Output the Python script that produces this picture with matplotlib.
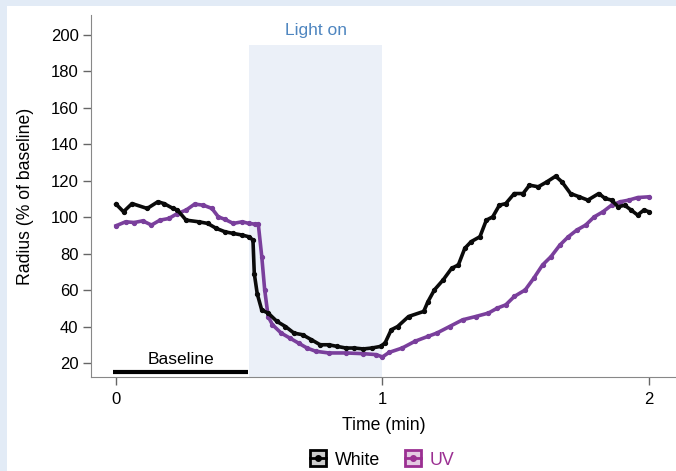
import matplotlib
matplotlib.use("Agg")
import matplotlib.pyplot as plt
from matplotlib.lines import Line2D
from matplotlib.patches import Rectangle

plt.rcParams['font.family'] = ['Liberation Sans', 'DejaVu Sans']

# pupil radius traces
white_t = [0.0, 0.028, 0.06, 0.117, 0.157, 0.18, 0.214, 0.23, 0.263, 0.31, 0.344,
           0.376, 0.409, 0.44, 0.474, 0.498, 0.514, 0.519, 0.53, 0.547, 0.571,
           0.604, 0.636, 0.668, 0.7, 0.733, 0.766, 0.798, 0.83, 0.863, 0.895,
           0.928, 0.96, 0.993, 1.01, 1.033, 1.057, 1.098, 1.155, 1.171, 1.195,
           1.228, 1.26, 1.285, 1.309, 1.333, 1.366, 1.39, 1.414, 1.439, 1.463,
           1.495, 1.528, 1.552, 1.585, 1.617, 1.65, 1.674, 1.706, 1.739, 1.771,
           1.812, 1.836, 1.86, 1.885, 1.909, 1.933, 1.958, 1.982, 2.0]
white_r = [107.2, 103, 107.5, 104.8, 108.5, 107.5, 104.8, 104, 98.4, 97.5, 96.6,
           93.9, 92, 91.1, 90.2, 89.3, 87.5, 69, 58, 49, 47.4,
           42.8, 40, 36.4, 35.5, 32.8, 30, 30, 29.1, 28.2, 28.2,
           27.7, 28.2, 29.1, 31, 38.2, 40, 45.5, 48.3, 53.7, 60.1,
           65.6, 72, 73.8, 82.9, 86.6, 89.3, 98.4, 100.2, 106.6, 107.5,
           113, 113, 117.6, 116.7, 119.4, 122.5, 119.4, 113, 111.2, 109.4,
           113, 110.3, 109.4, 105.7, 106.6, 104, 101.2, 104, 103]

uv_t = [0.0, 0.036, 0.068, 0.1, 0.133, 0.165, 0.198, 0.23, 0.263, 0.295, 0.328,
        0.36, 0.384, 0.409, 0.44, 0.474, 0.498, 0.522, 0.534, 0.547, 0.558,
        0.571, 0.587, 0.62, 0.652, 0.685, 0.717, 0.75, 0.798, 0.863, 0.928,
        0.976, 1.0, 1.025, 1.074, 1.122, 1.171, 1.204, 1.252, 1.301, 1.35,
        1.398, 1.431, 1.463, 1.495, 1.536, 1.568, 1.601, 1.633, 1.666, 1.698,
        1.73, 1.763, 1.795, 1.828, 1.86, 1.893, 1.925, 1.958, 2.0]
uv_r = [95.3, 97.5, 97.1, 98, 95.7, 98.4, 99.3, 102, 103.9, 107.2, 106.6,
        104.8, 100.2, 98.8, 96.6, 97.5, 96.6, 96.2, 96.2, 78.4, 60.1,
        45.5, 41, 36.4, 33.7, 30.9, 28.2, 26.4, 25.5, 25.5, 25.1,
        24.6, 23.3, 25.8, 28.2, 31.9, 34.6, 36.4, 40, 43.7, 45.5,
        47.4, 50.1, 51.9, 56.5, 60.1, 66.5, 73.8, 78.4, 84.7, 89.3,
        93, 95.7, 100.2, 103, 106.6, 108.5, 109.4, 110.8, 111.2]

yticks = [20, 40, 60, 80, 100, 120, 140, 160, 180, 200]
xticks = [0, 1, 2]

WHITE_C = '#0a0a0a'
UV_C = '#7a3f9c'
UV_LEG = '#9b2f92'

fig = plt.figure(figsize=(6.76, 4.71), dpi=100, facecolor='#e2ebf6')
bg = Rectangle((7 / 676, 0), 1, 1 - 6 / 471, transform=fig.transFigure,
               facecolor='white', edgecolor='none', zorder=-10)
fig.patches.append(bg)
ax = fig.add_axes([91 / 676, 1 - 377 / 471, 1 - 91 / 676, (377 - 15) / 471])
ax.set_facecolor('none')

ax.axvspan(0.5, 1.0, ymin=0, ymax=(194.5 - 12.3) / (211 - 12.3),
           color='#ebf0f8', zorder=0, lw=0)
ax.text(0.75, 198.5, 'Light on', color='#4f86c0', ha='center', va='bottom', fontsize=12.5)

ax.plot(white_t, white_r, color=WHITE_C, lw=2.6, marker='o', ms=2.8, zorder=3)
ax.plot(uv_t, uv_r, color=UV_C, lw=2.6, marker='o', ms=2.8, zorder=2)

ax.hlines(15, -0.01, 0.495, color='black', lw=3)
ax.text(0.245, 18, 'Baseline', ha='center', va='bottom', fontsize=12.5)

ax.set_xlim(-0.094, 2.102)
ax.set_ylim(12.3, 211)
ax.set_xticks(xticks)
ax.set_yticks(yticks)
ax.tick_params(colors='#666666', labelcolor='black', labelsize=12, length=6, width=1, pad=3)
ax.tick_params(axis='x', pad=5)
for s in ['top', 'right']:
    ax.spines[s].set_visible(False)
for s in ['left', 'bottom']:
    ax.spines[s].set_color('#888888')
ax.set_xlabel('Time (min)', fontsize=12.7, labelpad=7)
ax.set_ylabel('Radius (% of baseline)', fontsize=12.7, labelpad=12)

h_white = (Line2D([], [], marker='s', ms=12, mfc='#cccccc', mec='black', mew=2, ls='none'),
           Line2D([], [], color='black', lw=2, marker='o', ms=4))
h_uv = (Line2D([], [], marker='s', ms=12, mfc='#e4c9e2', mec=UV_LEG, mew=2, ls='none'),
        Line2D([], [], color=UV_LEG, lw=2, marker='o', ms=4))
leg = fig.legend([h_white, h_uv], ['White', 'UV'], loc='center', bbox_to_anchor=(0.565, 0.023),
                 ncol=2, frameon=False, fontsize=12.8, handlelength=0.9, handletextpad=0.5,
                 columnspacing=1.4)
leg.get_texts()[1].set_color(UV_LEG)

fig.savefig('out.png', dpi=100, facecolor=fig.get_facecolor())
